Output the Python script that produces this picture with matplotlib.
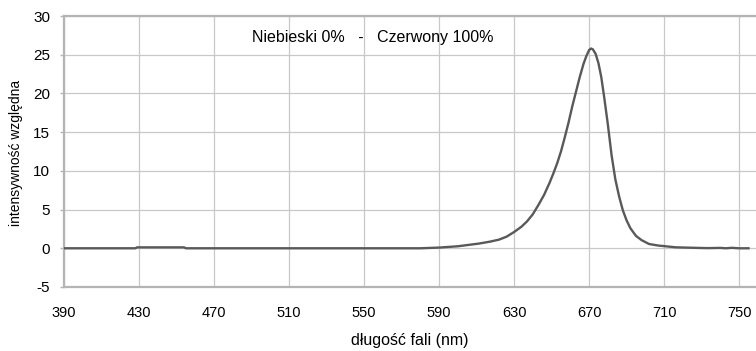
import matplotlib
matplotlib.use("Agg")
import matplotlib.pyplot as plt

plt.rcParams['font.family'] = ['Liberation Sans', 'DejaVu Sans']
plt.rcParams['axes.unicode_minus'] = False

wavelength = [390, 428, 429, 454, 455, 580, 590, 600, 611, 617, 622, 626, 630,
              634, 637, 640, 643, 646, 649, 651, 653, 655, 657, 659, 661, 663,
              665, 667, 668.5, 670, 671, 672, 673.5, 675, 676.5, 678, 680, 682,
              684, 686, 688, 690, 692, 695, 698, 702, 707, 710, 716, 720,
              733, 740, 743, 746, 750, 755]
intensity = [0, 0, 0.12, 0.12, 0, 0, 0.09, 0.26, 0.6, 0.85, 1.12, 1.5, 2.1,
             2.8, 3.5, 4.4, 5.6, 6.9, 8.5, 9.7, 11.0, 12.5, 14.3, 16.2, 18.3, 20.2,
             22.1, 23.8, 24.8, 25.6, 25.8, 25.7, 25.1, 23.9, 22.1, 19.6, 16.0, 12.0,
             8.9, 6.7, 4.9, 3.6, 2.6, 1.6, 1.05, 0.55, 0.35, 0.28, 0.13, 0.1,
             0.02, 0.05, 0.0, 0.06, 0.0, 0.0]

xticks = [390, 430, 470, 510, 550, 590, 630, 670, 710, 750]
yticks = [-5, 0, 5, 10, 15, 20, 25, 30]
annotation = "Niebieski 0%   -   Czerwony 100%"
xlabel = "długość fali (nm)"
ylabel = "intensywność względna"

fig = plt.figure(figsize=(7.56, 3.51), dpi=100)
ax = fig.add_axes([64/756, 1-287/351, 1-64/756, (287-16)/351])

ax.plot(wavelength, intensity, color='#595959', lw=1.7, zorder=3,
        solid_joinstyle='round')

ax.set_xlim(390, 759)
ax.set_ylim(-5, 30)
ax.set_xticks(xticks)
ax.set_yticks(yticks)
ax.grid(True, color='#c8c8c8', lw=0.9)
ax.set_axisbelow(True)

for s in ['left', 'bottom', 'top']:
    ax.spines[s].set_color('#b4b4b4')
    ax.spines[s].set_linewidth(1.6)
ax.spines['right'].set_visible(False)

ax.tick_params(axis='x', length=0, pad=14, labelsize=10.5, labelcolor='#000000')
ax.tick_params(axis='y', length=3, width=1, color='#b4b4b4', pad=7, labelsize=11,
               labelcolor='#000000')

ax.text(554.5, 27.2, annotation, ha='center', va='center', fontsize=11.5)

fig.text(410/756, 1-341/351, xlabel, ha='center', va='center', fontsize=11.5)
fig.text(16.5/756, 1-153/351, ylabel, ha='center', va='center', rotation=90,
         fontsize=10)

fig.savefig("out.png", dpi=100)
